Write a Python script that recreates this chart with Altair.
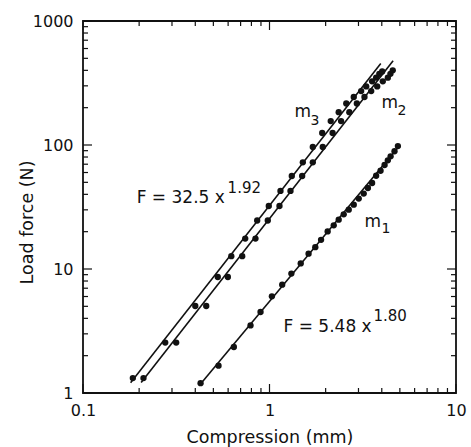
import altair as alt
import pandas as pd

FONT = "DejaVu Sans"
INK = "#111111"

# Measured load (N) against compression (mm) for the three samples
comp_m1 = [0.427, 0.533, 0.644, 0.791, 0.895, 1.03, 1.17, 1.31, 1.47, 1.62,
           1.76, 1.89, 2.05, 2.21, 2.35, 2.50, 2.66, 2.83, 3.01, 3.20,
           3.37, 3.55, 3.73, 3.94, 4.14, 4.31, 4.46, 4.68, 4.88]
load_m1 = [1.20, 1.66, 2.35, 3.51, 4.50, 6.02, 7.48, 9.18, 11.1, 13.3,
           15.0, 17.2, 20.1, 22.5, 25.0, 27.6, 30.1, 33.0, 37.0, 40.6,
           45.0, 49.4, 56.5, 62.0, 69.0, 75.2, 81.0, 89.0, 98.0]

comp_m2 = [0.211, 0.316, 0.458, 0.598, 0.714, 0.841, 0.979, 1.131, 1.296, 1.497,
           1.707, 1.93, 2.18, 2.42, 2.68, 2.94, 3.23, 3.51, 3.78, 4.05,
           4.31, 4.45, 4.58]
load_m2 = [1.32, 2.55, 5.03, 8.62, 12.7, 17.6, 24.6, 32.2, 42.6, 56.2,
           72.5, 96.4, 125, 156, 184, 216, 244, 272, 297, 326,
           349, 375, 400]

comp_m3 = [0.185, 0.276, 0.400, 0.528, 0.624, 0.741, 0.859, 0.991, 1.145, 1.317,
           1.509, 1.707, 1.917, 2.13, 2.35, 2.58, 2.83, 3.10, 3.30, 3.55,
           3.73, 3.88, 4.02]
load_m3 = [1.32, 2.55, 5.03, 8.62, 12.7, 17.6, 24.6, 32.2, 42.6, 56.2,
           72.5, 96.4, 125, 156, 184, 216, 244, 272, 297, 326,
           349, 375, 392]

# Power-law fits F = a * x^b and the compression range each one spans
fit_names = ["m1", "m2", "m3"]
fit_coef = [5.48, 25.5, 32.5]
fit_expo = [1.80, 1.92, 1.92]
fit_xmin = [0.43, 0.205, 0.18]
fit_xmax = [4.95, 4.6, 3.95]

# Axis tick values
x_major = [0.1, 1, 10]
x_minor = [0.2, 0.3, 0.4, 0.5, 0.6, 0.7, 0.8, 0.9, 2, 3, 4, 5, 6, 7, 8, 9]
y_major = [1, 10, 100, 1000]
y_minor = [2, 3, 4, 5, 6, 7, 8, 9, 20, 30, 40, 50, 60, 70, 80, 90,
           200, 300, 400, 500, 600, 700, 800, 900]

# Annotation pieces: text, anchor (mm, N), font size
note_text = ["F = 32.5 x", "1.92", "F = 5.48 x", "1.80",
             "m", "3", "m", "2", "m", "1"]
note_x = [0.194, 0.596, 1.189, 3.61, 1.36, 1.66, 3.98, 4.85, 3.23, 3.98]
note_y = [33.9, 40.8, 3.09, 3.79, 167, 144, 198, 174, 21.7, 19.4]
note_size = [17, 15, 17, 15, 17, 14, 17, 14, 17, 14]

points = pd.concat([
    pd.DataFrame({"comp": comp_m1, "load": load_m1, "sample": "m1"}),
    pd.DataFrame({"comp": comp_m2, "load": load_m2, "sample": "m2"}),
    pd.DataFrame({"comp": comp_m3, "load": load_m3, "sample": "m3"}),
])

fit_rows = []
for name, a, b, x0, x1 in zip(fit_names, fit_coef, fit_expo, fit_xmin, fit_xmax):
    for xv in (x0, x1):
        fit_rows.append({"comp": xv, "load": a * xv ** b, "sample": name})
fits = pd.DataFrame(fit_rows)

notes = pd.DataFrame({"comp": note_x, "load": note_y, "text": note_text, "fs": note_size})

W, H = 373, 372
MAJ, MIN = 9, 5

xscale = alt.Scale(type="log", domain=[0.1, 10], nice=False)
yscale = alt.Scale(type="log", domain=[1, 1000], nice=False)

x_axis = alt.Axis(values=x_major, format="~g", ticks=False, domain=False, grid=False,
                  labelFont=FONT, labelFontSize=16, labelColor=INK, labelPadding=9,
                  labelFlush=False, labelOverlap=False,
                  title="Compression (mm)", titleFont=FONT, titleFontSize=17.5,
                  titleFontWeight="normal", titleColor=INK,
                  titleBaseline="alphabetic", titleY=49)
y_axis = alt.Axis(values=y_major, format="~g", ticks=False, domain=False, grid=False,
                  labelFont=FONT, labelFontSize=16, labelColor=INK, labelPadding=10,
                  labelOverlap=False,
                  title="Load force (N)", titleFont=FONT, titleFontSize=17.5,
                  titleFontWeight="normal", titleColor=INK,
                  titleBaseline="middle", titleX=-56, titleY=201, titleAngle=-90)

X = alt.X("comp:Q", scale=xscale, axis=x_axis)
Y = alt.Y("load:Q", scale=yscale, axis=y_axis)

lines = alt.Chart(fits).mark_line(color=INK, strokeWidth=1.6).encode(
    x=X, y=Y, detail="sample:N",
)

dots = alt.Chart(points).mark_circle(size=40, color=INK, opacity=1).encode(x=X, y=Y)

labels = alt.Chart(notes).mark_text(align="left", baseline="alphabetic",
                                    font=FONT, color=INK).encode(
    x=X, y=Y,
    text="text:N",
    size=alt.Size("fs:Q", scale=None, legend=None),
)


def xticks(values, length):
    src = pd.DataFrame({"comp": values})
    base = alt.Chart(src).mark_rule(color=INK, strokeWidth=1.2)
    bottom = base.encode(x=X, y=alt.value(H), y2=alt.value(H - length))
    top = base.encode(x=X, y=alt.value(0), y2=alt.value(length))
    return [bottom, top]


def yticks(values, length):
    src = pd.DataFrame({"load": values})
    base = alt.Chart(src).mark_rule(color=INK, strokeWidth=1.2)
    left = base.encode(y=Y, x=alt.value(0), x2=alt.value(length))
    right = base.encode(y=Y, x=alt.value(W), x2=alt.value(W - length))
    return [left, right]


tick_layers = (xticks(x_major, MAJ) + xticks(x_minor, MIN)
               + yticks(y_major, MAJ) + yticks(y_minor, MIN))

chart = alt.layer(lines, dots, labels, *tick_layers).properties(
    width=W,
    height=H,
    autosize=alt.AutoSizeParams(type="none"),
    padding={"left": 83, "top": 21, "right": 15, "bottom": 54},
    background="white",
).configure_view(stroke=INK, strokeWidth=1.8)

chart.save("out.html", embed_options={"renderer": "svg", "actions": False})
